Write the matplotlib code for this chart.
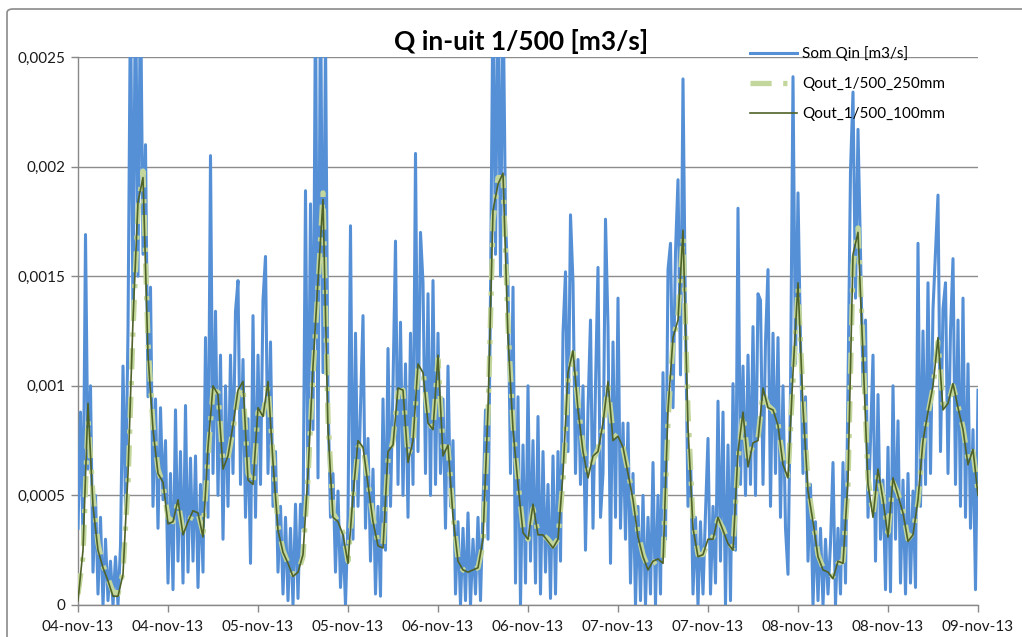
import matplotlib
matplotlib.use("Agg")
import matplotlib.pyplot as plt
import numpy as np
import pandas as pd
from matplotlib.patches import FancyBboxPatch

# ---------------- data (values in l/s, converted to m3/s below) ----------------
start = "2013-11-04 00:00"
end = "2013-11-09 00:00"

som_qin_ls = [
    0.35, 0.88, 0.30, 1.69, 0.62, 1.00, 0.15, 0.50, 0.05, 0.40,
    0.00, 0.30, 0.02, 0.20, 0.00, 0.22, 0.00, 0.27, 1.09, 0.45,
    1.25, 2.80, 1.30, 2.90, 1.50, 2.85, 1.60, 2.10, 0.95, 1.45,
    0.45, 0.94, 0.35, 0.90, 0.48, 0.75, 0.10, 0.60, 0.07, 0.89,
    0.20, 0.70, 0.10, 0.91, 0.15, 0.67, 0.20, 0.68, 0.08, 0.55,
    0.15, 1.22, 0.40, 2.05, 0.60, 1.34, 0.50, 1.14, 0.30, 1.00,
    0.45, 1.14, 0.60, 1.34, 1.48, 0.55, 1.12, 0.40, 0.85, 0.19,
    1.32, 0.40, 1.14, 0.55, 1.39, 1.59, 0.60, 1.20, 0.45, 0.70,
    0.15, 0.45, 0.05, 0.40, 0.02, 0.35, 0.00, 0.46, 0.03, 0.46,
    0.35, 1.89, 0.50, 1.83, 0.80, 2.80, 0.58, 2.90, 1.06, 2.60,
    0.95, 0.40, 0.60, 0.15, 0.52, 0.08, 0.32, 0.00, 0.40, 1.73,
    0.30, 1.24, 0.45, 0.90, 1.32, 0.35, 0.76, 0.20, 0.62, 0.05,
    0.45, 0.04, 0.94, 0.25, 1.17, 0.45, 1.00, 1.66, 0.55, 1.29,
    0.50, 1.10, 0.40, 1.24, 0.55, 2.06, 0.70, 1.70, 1.47, 0.60,
    1.42, 0.50, 1.48, 0.55, 1.24, 0.60, 0.94, 0.35, 1.09, 0.45,
    0.75, 0.05, 0.38, 0.00, 0.35, 0.02, 0.42, 0.00, 0.30, 0.05,
    0.40, 0.02, 0.45, 0.89, 0.30, 1.42, 2.80, 1.60, 2.90, 1.50,
    2.85, 1.75, 1.47, 0.60, 1.45, 0.10, 0.95, 0.00, 0.73, 0.10,
    1.00, 0.20, 0.75, 0.10, 0.86, 0.05, 0.70, 0.15, 0.55, 0.03,
    0.68, 0.05, 0.70, 0.20, 1.24, 1.52, 0.70, 1.78, 1.47, 0.60,
    1.12, 0.55, 1.00, 0.25, 0.89, 1.30, 0.35, 1.00, 1.54, 0.40,
    0.60, 1.76, 1.27, 0.19, 1.20, 0.40, 1.40, 0.35, 0.83, 0.30,
    0.83, 0.10, 0.60, 0.00, 0.45, 0.02, 0.50, 0.00, 0.40, 0.05,
    0.65, 0.00, 0.50, 0.05, 1.06, 0.30, 1.53, 1.65, 0.90, 1.61,
    1.94, 1.05, 2.40, 1.30, 0.45, 0.70, 0.05, 0.40, 0.00, 0.38,
    0.05, 0.42, 0.76, 0.05, 0.45, 0.10, 0.93, 0.20, 0.88, 0.00,
    0.73, 0.02, 1.01, 0.25, 1.81, 0.55, 1.09, 0.50, 1.14, 0.55,
    1.27, 0.50, 1.42, 1.39, 0.55, 1.20, 1.53, 0.45, 1.24, 0.60,
    1.22, 0.40, 1.00, 0.35, 0.14, 0.98, 2.41, 1.10, 1.88, 1.20,
    0.60, 0.95, 0.20, 0.55, 0.00, 0.38, 0.02, 0.35, 0.00, 0.30,
    0.05, 0.28, 0.65, 0.00, 0.35, 0.05, 0.65, 0.10, 1.00, 1.98,
    2.34, 1.40, 2.17, 1.61, 1.00, 1.30, 0.40, 0.75, 1.14, 0.20,
    0.96, 0.30, 0.57, 0.07, 0.72, 0.06, 1.00, 0.30, 0.84, 0.10,
    0.57, 0.05, 0.60, 0.10, 0.52, 0.08, 1.65, 0.45, 1.25, 0.55,
    1.47, 0.60, 1.35, 1.61, 1.87, 0.70, 1.35, 1.47, 0.60, 1.25,
    1.58, 0.55, 1.30, 0.45, 1.40, 0.40, 1.10, 0.35, 0.80, 0.07, 0.98,
]

qout_250_ls = [
    0.05, 0.22, 0.85, 0.50, 0.28, 0.18, 0.12, 0.06, 0.05, 0.15,
    0.55, 1.25, 1.80, 1.98, 1.20, 0.82, 0.62, 0.55, 0.40, 0.38,
    0.47, 0.34, 0.37, 0.42, 0.42, 0.33, 0.68, 0.98, 0.97, 0.65,
    0.67, 0.80, 0.96, 1.00, 0.60, 0.55, 0.88, 0.87, 1.00, 0.68,
    0.36, 0.25, 0.19, 0.14, 0.15, 0.22, 0.58, 1.05, 1.45, 1.88,
    0.85, 0.42, 0.38, 0.33, 0.20, 0.48, 0.72, 0.73, 0.56, 0.40,
    0.28, 0.27, 0.66, 0.75, 0.97, 0.98, 0.68, 0.74, 1.08, 1.07,
    0.85, 0.80, 1.12, 0.72, 0.72, 0.42, 0.21, 0.16, 0.15, 0.16,
    0.17, 0.28, 0.85, 1.75, 1.95, 1.95, 1.28, 0.82, 0.56, 0.35,
    0.30, 0.44, 0.33, 0.32, 0.30, 0.27, 0.30, 0.57, 1.02, 1.15,
    0.92, 0.72, 0.60, 0.66, 0.71, 0.81, 1.00, 0.78, 0.76, 0.72,
    0.61, 0.49, 0.33, 0.23, 0.17, 0.19, 0.21, 0.20, 0.84, 1.20,
    1.32, 1.68, 0.88, 0.38, 0.23, 0.23, 0.29, 0.31, 0.39, 0.35,
    0.29, 0.26, 0.66, 0.87, 0.66, 0.73, 0.76, 0.97, 0.91, 0.89,
    0.83, 0.66, 0.59, 1.02, 1.45, 0.95, 0.55, 0.39, 0.23, 0.17,
    0.15, 0.13, 0.19, 0.20, 0.55, 1.55, 1.72, 1.18, 0.58, 0.41,
    0.60, 0.49, 0.33, 0.56, 0.51, 0.43, 0.30, 0.33, 0.47, 0.73,
    0.87, 0.99, 1.20, 0.92, 0.91, 1.00, 0.91, 0.81, 0.66, 0.70,
    0.52,
]

qout_100_ls = [
    0.02, 0.25, 0.92, 0.45, 0.25, 0.17, 0.11, 0.04, 0.04, 0.14,
    0.60, 1.30, 1.84, 1.95, 1.14, 0.80, 0.60, 0.56, 0.37, 0.38,
    0.48, 0.32, 0.38, 0.43, 0.42, 0.31, 0.72, 1.00, 0.96, 0.62,
    0.68, 0.82, 0.98, 1.02, 0.57, 0.55, 0.90, 0.86, 1.02, 0.65,
    0.34, 0.24, 0.19, 0.13, 0.15, 0.23, 0.60, 1.09, 1.48, 1.85,
    0.80, 0.40, 0.38, 0.32, 0.19, 0.50, 0.75, 0.72, 0.55, 0.38,
    0.27, 0.26, 0.70, 0.73, 0.99, 0.98, 0.65, 0.75, 1.10, 1.06,
    0.83, 0.80, 1.14, 0.68, 0.73, 0.40, 0.20, 0.16, 0.15, 0.16,
    0.17, 0.30, 0.89, 1.80, 1.92, 1.97, 1.22, 0.80, 0.55, 0.33,
    0.30, 0.46, 0.32, 0.32, 0.29, 0.26, 0.30, 0.60, 1.06, 1.16,
    0.89, 0.70, 0.58, 0.68, 0.70, 0.83, 1.02, 0.75, 0.77, 0.72,
    0.60, 0.48, 0.31, 0.22, 0.16, 0.20, 0.21, 0.19, 0.89, 1.22,
    1.30, 1.71, 0.81, 0.35, 0.22, 0.23, 0.30, 0.30, 0.40, 0.34,
    0.28, 0.25, 0.70, 0.88, 0.63, 0.74, 0.75, 0.99, 0.90, 0.89,
    0.82, 0.64, 0.58, 1.06, 1.47, 0.90, 0.52, 0.38, 0.22, 0.16,
    0.15, 0.12, 0.20, 0.19, 0.57, 1.60, 1.70, 1.14, 0.55, 0.40,
    0.62, 0.48, 0.31, 0.58, 0.50, 0.42, 0.29, 0.32, 0.48, 0.75,
    0.88, 1.00, 1.22, 0.89, 0.92, 1.01, 0.90, 0.80, 0.64, 0.71,
    0.50,
]

x_tick_labels = ["04-nov-13", "04-nov-13", "05-nov-13", "05-nov-13", "06-nov-13",
                 "06-nov-13", "07-nov-13", "07-nov-13", "08-nov-13", "08-nov-13",
                 "09-nov-13"]
y_ticks = [0, 0.0005, 0.001, 0.0015, 0.002, 0.0025]
y_tick_labels = ["0", "0,0005", "0,001", "0,0015", "0,002", "0,0025"]

title = "Q in-uit 1/500 [m3/s]"
labels = ["Som Qin [m3/s]", "Qout_1/500_250mm", "Qout_1/500_100mm"]

# ---------------- plotting ----------------
plt.rcParams['font.family'] = ['Lato', 'DejaVu Sans']

t_qin = pd.date_range(start, end, periods=len(som_qin_ls))
t_250 = pd.date_range(start, end, periods=len(qout_250_ls))
t_100 = pd.date_range(start, end, periods=len(qout_100_ls))
x_ticks = pd.date_range(start, end, periods=len(x_tick_labels))

fig = plt.figure(figsize=(10.22, 6.37), dpi=100)
ax = fig.add_axes([78 / 1022, 32 / 637, 900 / 1022, 548 / 637])

ax.plot(t_qin, np.array(som_qin_ls) / 1000, color="#5590D6", lw=2.2,
        label=labels[0], zorder=3)
ax.plot(t_250, np.array(qout_250_ls) / 1000, color="#C3D69B", lw=3.8,
        dashes=(4.0, 2.2, 0.8, 2.2), label=labels[1], zorder=4)
ax.plot(t_100, np.array(qout_100_ls) / 1000, color="#4F6228", lw=1.2,
        label=labels[2], zorder=5)

ax.set_xlim(x_ticks[0], x_ticks[-1])
ax.set_ylim(0, 0.0025)
ax.set_xticks(x_ticks)
ax.set_xticklabels(x_tick_labels, fontsize=11, color="#1a1a1a")
ax.set_yticks(y_ticks)
ax.set_yticklabels(y_tick_labels, fontsize=11, color="#1a1a1a")
ax.tick_params(axis="both", direction="out", length=5, width=1, color="#888888", pad=4)
ax.tick_params(axis="x", pad=6)

ax.grid(axis="y", color="#8c8c8c", lw=1)
ax.set_axisbelow(True)
for s in ["top", "right"]:
    ax.spines[s].set_visible(False)
for s in ["left", "bottom"]:
    ax.spines[s].set_color("#888888")
    ax.spines[s].set_linewidth(1)

fig.text(521 / 1022, 1 - 42 / 637, title, ha="center", va="center",
         fontsize=19, fontweight="bold", color="black")

leg = fig.legend(loc="upper left", bbox_to_anchor=(750 / 1022, 1 - 46 / 637),
                 frameon=False, fontsize=11, labelspacing=1.05,
                 handlelength=3.1, handletextpad=0.3, borderpad=0,
                 borderaxespad=0)

# chart border
border = FancyBboxPatch((7 / 1022, -0.05), 1.2, 1 - 9 / 637 + 0.05,
                        boxstyle="round,pad=0,rounding_size=0.006",
                        transform=fig.transFigure, fill=False,
                        edgecolor="#8a8a8a", lw=1.2, clip_on=False)
fig.patches.append(border)

fig.savefig("out.png", dpi=100)
